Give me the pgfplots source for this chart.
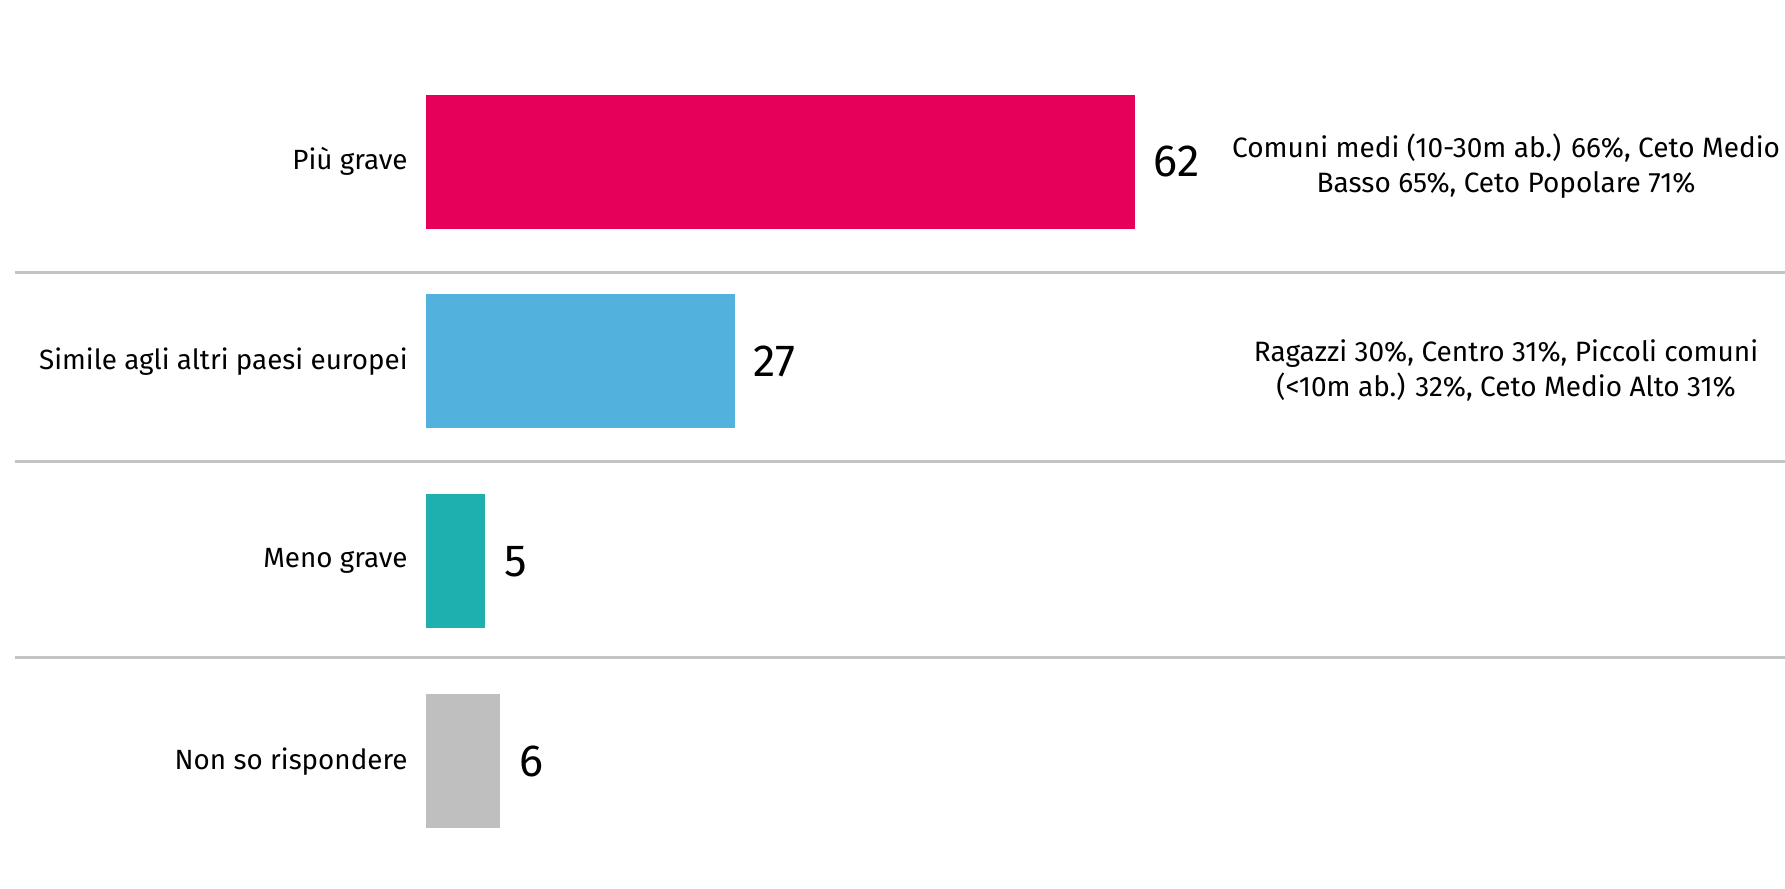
\documentclass[border=0pt]{standalone}
\usepackage{pgfplots}
\pgfplotsset{compat=1.18}
\usepackage{fontspec}
\setmainfont{Fira Sans}
\definecolor{cRed}{HTML}{E6005A}
\definecolor{cBlue}{HTML}{53B1DE}
\definecolor{cTeal}{HTML}{1DB0AF}
\definecolor{cGray}{HTML}{BFBFBF}
\definecolor{cLine}{HTML}{C4C4C4}
\begin{document}
\begin{tikzpicture}
\useasboundingbox (0,0) rectangle (892.5bp,444.5bp);
\begin{axis}[
  at={(213bp,444.5bp)}, anchor=north west,
  scale only axis, width=679.5bp, height=444.5bp,
  xbar, bar width=67bp, bar shift=0pt,
  xmin=0, xmax=118.9, ymin=-0.809, ymax=3.64, y dir=reverse,
  axis line style={draw=none}, clip=false,
  hide x axis,
  ytick={0,1,2,3}, ytick style={draw=none}, major tick length=0pt,
  yticklabels={Più grave, Simile agli altri paesi europei, Meno grave, Non so rispondere},
  yticklabel style={font=\fontsize{13.9bp}{17bp}\selectfont, inner sep=0pt, xshift=-9bp},
  point meta=explicit symbolic,
  nodes near coords,
  every node near coord/.append style={font=\fontsize{22.5bp}{27bp}\selectfont, anchor=west, xshift=6bp, text=black},
  every axis plot/.append style={draw=none},
]
\addplot[fill=cRed] coordinates {(62,0) [62]};
\addplot[fill=cBlue] coordinates {(27,1) [27]};
\addplot[fill=cTeal] coordinates {(5.2,2) [5]};
\addplot[fill=cGray] coordinates {(6.5,3) [6]};
\draw[cLine, line width=1.5bp] (axis cs:-35.96,0.553) -- (axis cs:118.9,0.553);
\draw[cLine, line width=1.5bp] (axis cs:-35.96,1.503) -- (axis cs:118.9,1.503);
\draw[cLine, line width=1.5bp] (axis cs:-35.96,2.479) -- (axis cs:118.9,2.479);
\node[align=center, font=\fontsize{14bp}{17.5bp}\selectfont] at (axis cs:94.5,0.02)
  {Comuni medi (10-30m ab.) 66\%, Ceto Medio\\Basso 65\%, Ceto Popolare 71\%};
\node[align=center, font=\fontsize{14bp}{17.5bp}\selectfont] at (axis cs:94.5,1.045)
  {Ragazzi 30\%, Centro 31\%, Piccoli comuni\\(<10m ab.) 32\%, Ceto Medio Alto 31\%};
\end{axis}
\end{tikzpicture}
\end{document}
